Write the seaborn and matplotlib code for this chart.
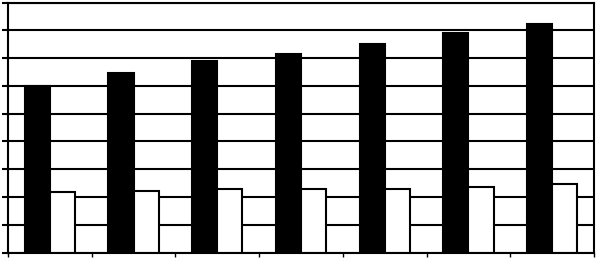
import pandas as pd
import matplotlib
matplotlib.use("Agg")
import matplotlib.pyplot as plt
import seaborn as sns

# values (no axis labels in the original)
groups = ["1", "2", "3", "4", "5", "6", "7"]
series_a = [5.98, 6.47, 6.91, 7.16, 7.52, 7.92, 8.24]
series_b = [2.17, 2.21, 2.27, 2.28, 2.28, 2.35, 2.47]

df = pd.DataFrame({
    "group": groups * 2,
    "series": ["A"] * len(groups) + ["B"] * len(groups),
    "value": series_a + series_b,
})

sns.set_style("white")
fig = plt.figure(figsize=(5.97, 2.59), dpi=100)
ax = fig.add_axes([8 / 597, 6.5 / 259, 586 / 597, 250 / 259])

sns.barplot(data=df, x="group", y="value", hue="series",
            palette=["black", "white"], edgecolor="black", linewidth=1.5,
            width=0.6, gap=0, legend=False, ax=ax)

ax.set_xlim(-0.5, len(groups) - 0.5)
ax.set_ylim(0, 9)
ax.set_yticks(range(0, 10))
ax.set_xticks([i - 0.5 for i in range(len(groups) + 1)])
ax.set_xticklabels([])
ax.set_yticklabels([])
ax.set_xlabel("")
ax.set_ylabel("")

# horizontal grid in black, behind the bars
ax.set_axisbelow(True)
ax.yaxis.grid(True, color="black", linewidth=1.5)
ax.xaxis.grid(False)

for side in ax.spines.values():
    side.set_visible(True)
    side.set_color("black")
    side.set_linewidth(1.5)

ax.tick_params(axis="y", which="both", left=True, direction="out",
               length=4, width=1.5, color="black")
ax.tick_params(axis="x", which="both", bottom=True, direction="out",
               length=3, width=1, color="black")

fig.savefig("out.png", dpi=100)
